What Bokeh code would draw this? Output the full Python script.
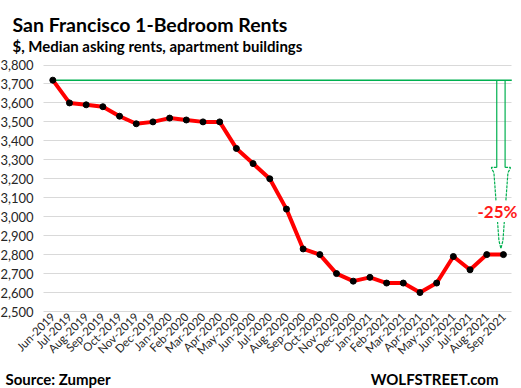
import math
from bokeh.plotting import figure
from bokeh.models import Range1d, FixedTicker, NumeralTickFormatter, Label, Grid
from bokeh.embed import file_html
from bokeh.resources import INLINE

months = ["Jun-2019", "Jul-2019", "Aug-2019", "Sep-2019", "Oct-2019", "Nov-2019", "Dec-2019",
          "Jan-2020", "Feb-2020", "Mar-2020", "Apr-2020", "May-2020", "Jun-2020", "Jul-2020",
          "Aug-2020", "Sep-2020", "Oct-2020", "Nov-2020", "Dec-2020", "Jan-2021", "Feb-2021",
          "Mar-2021", "Apr-2021", "May-2021", "Jun-2021", "Jul-2021", "Aug-2021", "Sep-2021"]
rents = [3720, 3600, 3590, 3580, 3530, 3490, 3500,
         3520, 3510, 3500, 3500, 3360, 3280, 3200,
         3040, 2830, 2800, 2700, 2660, 2680, 2650,
         2650, 2600, 2650, 2790, 2720, 2800, 2800]
y_ticks = list(range(2500, 3801, 100))

title_text = "San Francisco 1-Bedroom Rents"
subtitle_text = "$, Median asking rents, apartment buildings"
source_text = "Source: Zumper"
brand_text = "WOLFSTREET.com"

FONT = "Lato"
GREEN = "#00b050"
W, H = 521, 388
n = len(months)
idx = list(range(n))

# layout constants (pixels in the canvas)
PX0, DX = 52.3, 16.69          # x pixel of first month, pixels per month
PY_TOP, PY_BOT = 64.5, 311.0   # pixel rows of top / bottom y tick
PLOT_LEFT = 43.0
k = (PY_BOT - PY_TOP) / (y_ticks[-1] - y_ticks[0])
x_start, x_end = -PX0 / DX, (W - PX0) / DX
y_top = y_ticks[-1] + PY_TOP / k
y_bot = y_ticks[0] - (H - PY_BOT) / k
xlo, xhi = (PLOT_LEFT - PX0) / DX, n - 0.5

p = figure(width=W, height=H, output_backend="svg", toolbar_location=None, title=None,
           x_range=Range1d(x_start, x_end), y_range=Range1d(y_bot, y_top), min_border=0)
p.outline_line_color = None

# x axis drawn at the bottom of the value range
p.xaxis.fixed_location = y_ticks[0]
p.xaxis.ticker = FixedTicker(ticks=idx)
p.xaxis.major_label_overrides = {i: m for i, m in enumerate(months)}
p.xaxis.major_label_orientation = math.pi / 4
p.xaxis.axis_line_color = None
p.xaxis.major_tick_line_color = None
p.xaxis.minor_tick_line_color = None
p.xaxis.major_tick_in = 0
p.xaxis.major_tick_out = 0
p.xaxis.major_label_text_font = FONT
p.xaxis.major_label_text_font_size = "11.5px"
p.xaxis.major_label_text_color = "#262626"
p.xaxis.major_label_standoff = 3
p.xgrid.visible = False

p.yaxis.fixed_location = xlo
p.yaxis.ticker = FixedTicker(ticks=y_ticks)
p.yaxis.formatter = NumeralTickFormatter(format="0,0")
p.yaxis.axis_line_color = None
p.yaxis.major_tick_line_color = None
p.yaxis.minor_tick_line_color = None
p.yaxis.major_tick_in = 0
p.yaxis.major_tick_out = 0
p.yaxis.major_label_text_font = FONT
p.yaxis.major_label_text_font_size = "13px"
p.yaxis.major_label_text_color = "#262626"
p.yaxis.major_label_standoff = 10

if "cross_bounds" in Grid.properties():
    p.ygrid.ticker = FixedTicker(ticks=y_ticks)
    p.ygrid.cross_bounds = (xlo, xhi)
    p.ygrid.grid_line_color = "#d9d9d9"
else:
    p.ygrid.visible = False
    p.segment(x0=[xlo] * len(y_ticks), y0=y_ticks, x1=[xhi] * len(y_ticks), y1=y_ticks,
              line_color="#d9d9d9", line_width=1)

# reference line and arrow
start, end = rents[0], rents[-1]
span = start - end
p.segment(x0=[0], y0=[start], x1=[xhi], y1=[start], line_color=GREEN, line_width=1.5)

cx = (n - 1) - 0.15
sw, hw = 0.25, 0.57
head_top = end + 0.50 * span
p.segment(x0=[cx - sw, cx + sw], y0=[start, start], x1=[cx - sw, cx + sw], y1=[head_top, head_top],
          line_color=GREEN, line_width=1.2)
ax = [cx - sw, cx - hw, cx - hw + 0.03, cx - 0.42, cx - 0.12, cx, cx + 0.12, cx + 0.42,
      cx + hw - 0.03, cx + hw, cx + sw]
ay = [head_top, head_top, head_top - 0.01 * span, end + 0.47 * span, end + 0.08 * span,
      end + 0.035 * span, end + 0.08 * span, end + 0.47 * span, head_top - 0.01 * span,
      head_top, head_top]
p.line(ax, ay, line_color=GREEN, line_width=1.2, line_dash="3 1")

# data
p.line(idx, rents, line_color="red", line_width=4)
p.scatter(idx, rents, marker="circle", size=6, color="black")

pct = round((end / start - 1) * 100)
p.add_layout(Label(x=(n - 1) - 0.36, y=end + 0.247 * span, text=f"{pct}%", text_font=FONT,
                   text_font_size="17px", text_font_style="bold", text_color="#ff1a1a",
                   text_align="center", text_baseline="middle",
                   background_fill_color="white", background_fill_alpha=1.0))

# titles and footer (screen units measured from bottom-left of canvas)
p.add_layout(Label(x=12, y=H - 24, x_units="screen", y_units="screen", text=title_text,
                   text_font=FONT, text_font_size="19.5px", text_font_style="bold",
                   text_color="black", text_baseline="alphabetic"))
p.add_layout(Label(x=12, y=H - 45.5, x_units="screen", y_units="screen", text=subtitle_text,
                   text_font=FONT, text_font_size="15px", text_font_style="bold",
                   text_color="black", text_baseline="alphabetic"))
p.add_layout(Label(x=5, y=H - 378, x_units="screen", y_units="screen", text=source_text,
                   text_font=FONT, text_font_size="15px", text_font_style="bold",
                   text_color="black", text_baseline="alphabetic"))
p.add_layout(Label(x=498, y=H - 378, x_units="screen", y_units="screen", text=brand_text,
                   text_font=FONT, text_font_size="15px", text_font_style="bold",
                   text_color="black", text_baseline="alphabetic", text_align="right"))

open("out.html", "w").write(file_html(p, INLINE))
